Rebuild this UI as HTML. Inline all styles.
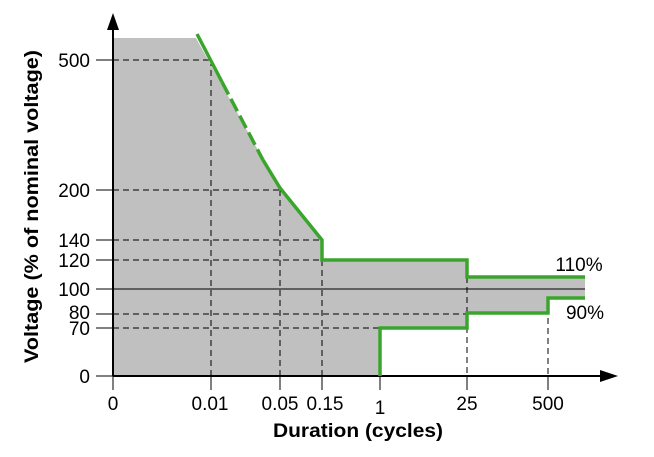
<!DOCTYPE html>
<html><head><style>body{margin:0;background:#fff}svg{display:block}</style></head><body>
<svg width="654" height="457" viewBox="0 0 654 457" font-family="Liberation Sans, sans-serif">
<polygon points="113,38 196,38 280,190 322,240 322,260 467,260 467,277 585,277 585,298 548,298 548,313 467,313 467,328 380,328 380,376 113,376" fill="#c0c0c0"/>
<g stroke="#000" stroke-width="1" stroke-dasharray="6,4" fill="none">
<line x1="113" y1="60" x2="210" y2="60"/><line x1="113" y1="190" x2="280" y2="190"/>
<line x1="113" y1="240" x2="322" y2="240"/><line x1="113" y1="260" x2="322" y2="260"/>
<line x1="113" y1="314" x2="467" y2="314"/><line x1="113" y1="328" x2="380" y2="328"/>
<line x1="211" y1="60" x2="211" y2="376"/><line x1="280" y1="190" x2="280" y2="376"/>
<line x1="322" y1="240" x2="322" y2="376"/><line x1="467" y1="277" x2="467" y2="376"/>
<line x1="548" y1="298" x2="548" y2="376"/>
</g>
<line x1="113" y1="289" x2="585" y2="289" stroke="#000" stroke-width="1"/>
<g stroke="#000" stroke-width="1">
<line x1="96" y1="60" x2="113" y2="60"/><line x1="96" y1="190" x2="113" y2="190"/><line x1="96" y1="240" x2="113" y2="240"/>
<line x1="96" y1="260" x2="113" y2="260"/><line x1="96" y1="289" x2="113" y2="289"/><line x1="96" y1="314" x2="113" y2="314"/>
<line x1="96" y1="328" x2="113" y2="328"/><line x1="96" y1="376" x2="113" y2="376"/>
<line x1="113" y1="376" x2="113" y2="390"/><line x1="211" y1="376" x2="211" y2="390"/><line x1="280" y1="376" x2="280" y2="390"/>
<line x1="322" y1="376" x2="322" y2="390"/><line x1="380" y1="376" x2="380" y2="390"/><line x1="467" y1="376" x2="467" y2="390"/><line x1="548" y1="376" x2="548" y2="390"/>
</g>
<line x1="113" y1="376" x2="113" y2="28" stroke="#000" stroke-width="2"/>
<polygon points="113,13 107,30 119,30" fill="#000"/>
<line x1="113" y1="376" x2="602" y2="376" stroke="#000" stroke-width="2"/>
<polygon points="618,376 600,370 600,382" fill="#000"/>
<g stroke="#3aa52c" stroke-width="3.5" fill="none">
<polyline points="197,34 222,82"/>
<polyline points="222,82 263,160" stroke-dasharray="14,5"/>
<polyline points="263,160 280,188 322,240 322,260 467,260 467,277 585,277"/>
<polyline points="380,376 380,328 467,328 467,313 548,313 548,298 585,298"/>
</g>
<g font-size="19" text-anchor="end" fill="#000">
<text x="90" y="67">500</text><text x="90" y="197">200</text><text x="90" y="247">140</text>
<text x="90" y="267">120</text><text x="90" y="296">100</text><text x="90" y="319">80</text>
<text x="90" y="335">70</text><text x="90" y="383">0</text>
</g>
<g font-size="19" text-anchor="middle" fill="#000">
<text x="113" y="410">0</text><text x="210" y="410">0.01</text><text x="280" y="410">0.05</text>
<text x="325" y="410">0.15</text><text x="380" y="414">1</text><text x="467" y="410">25</text><text x="548" y="410">500</text>
</g>
<text x="579" y="271" font-size="19" text-anchor="middle">110%</text>
<text x="585" y="319" font-size="19" text-anchor="middle">90%</text>
<text x="273" y="437" font-size="19" font-weight="bold" textLength="170" lengthAdjust="spacingAndGlyphs">Duration (cycles)</text>
<text transform="translate(38,363) rotate(-90)" font-size="19" font-weight="bold" textLength="313" lengthAdjust="spacingAndGlyphs">Voltage (% of nominal voltage)</text>
</svg>
</body></html>
